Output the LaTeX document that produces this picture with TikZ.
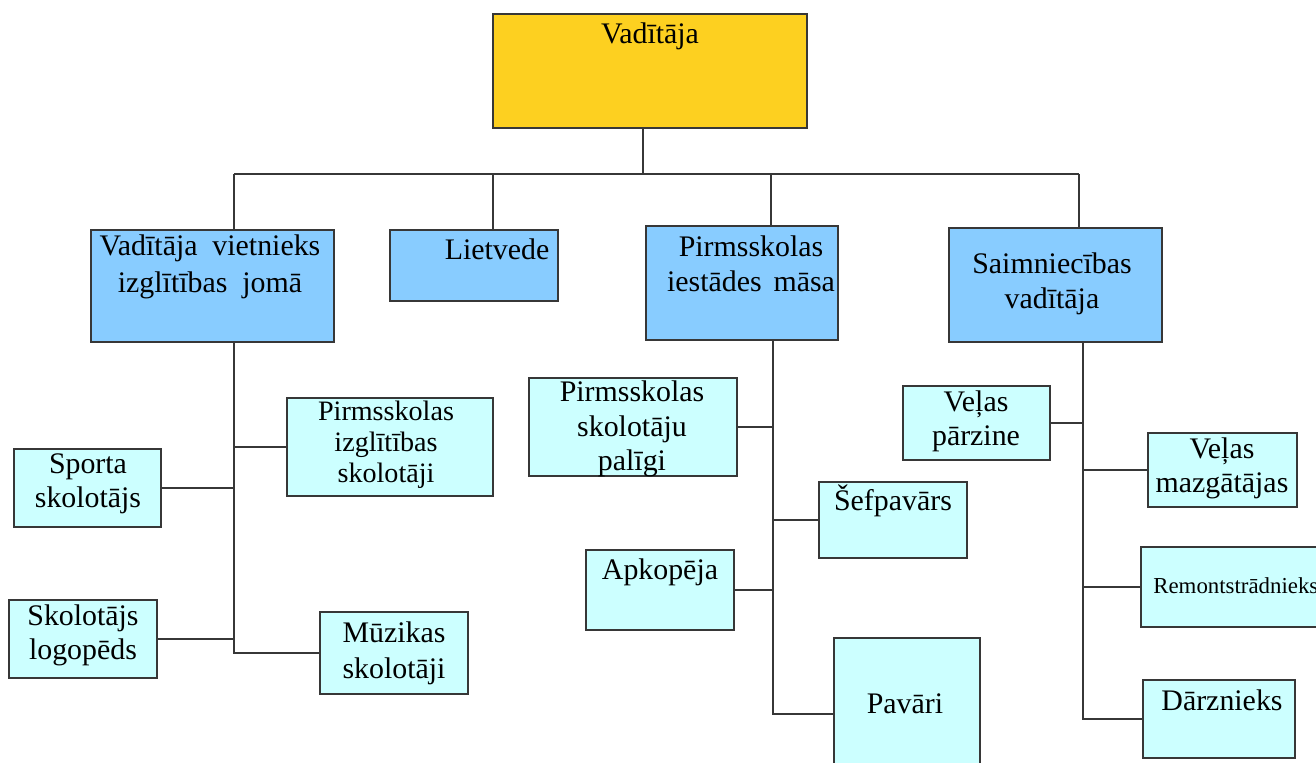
\documentclass[tikz,border=0pt]{standalone}
\usepackage{fontspec}
\setmainfont{Liberation Serif}
\usetikzlibrary{fit}
\definecolor{gold}{RGB}{253,208,32}
\definecolor{skyb}{RGB}{136,204,255}
\definecolor{pale}{RGB}{204,255,255}
\definecolor{edge}{RGB}{55,55,55}
\begin{document}
\begin{tikzpicture}[x=0.02cm,y=-0.02cm,
  bx/.style={draw=edge,line width=1.1pt,inner sep=0pt,rectangle},
  topbox/.style={bx,fill=gold},
  midbox/.style={bx,fill=skyb},
  subbox/.style={bx,fill=pale},
  txt/.style={align=center,inner sep=0pt,font=\fontsize{17}{19.5}\selectfont},
  wire/.style={draw=edge,line width=1pt}]
\useasboundingbox (0,0) rectangle (1316,763);
\clip (0,0) rectangle (1316,763);
% top
\node[topbox,fit={(493,14) (807,128)}] (top) {};
\node[txt] (topt) at (650,36) {Vadītāja};
% level 2
\node[midbox,fit={(91,230) (334,342)}] (v1) {};
\node[txt,font=\fontsize{17}{21}\selectfont] (v1t) at (210,267) {Vadītāja\hspace{0.5em}vietnieks\\izglītības\hspace{0.5em}jomā};
\node[midbox,fit={(390,230) (558,301)}] (lv) {};
\node[txt] (lvt) at (497,249) {Lietvede};
\node[midbox,fit={(646,226) (838,340)}] (ma) {};
\node[txt,font=\fontsize{17}{20}\selectfont] (mat) at (751,264) {Pirmsskolas\\iestādes\hspace{0.4em}māsa};
\node[midbox,fit={(949,228) (1162,342)}] (sv) {};
\node[txt,font=\fontsize{17}{20}\selectfont] (svt) at (1052,284) {Saimniecības\\vadītāja};
% level 3 left
\node[subbox,fit={(287,398) (493,496)}] (pis) {};
\node[txt,font=\fontsize{16}{17.6}\selectfont] (pist) at (386,445) {Pirmsskolas\\izglītības\\skolotāji};
\node[subbox,fit={(14,449) (161,527)}] (sp) {};
\node[txt] (spt) at (88,484) {Sporta\\skolotājs};
\node[subbox,fit={(9,600) (157,678)}] (lo) {};
\node[txt] (lot) at (83,635) {Skolotājs\\logopēds};
\node[subbox,fit={(320,612) (468,694)}] (mu) {};
\node[txt,font=\fontsize{17}{20.5}\selectfont] (mut) at (394,653) {Mūzikas\\skolotāji};
% level 3 middle
\node[subbox,fit={(529,378) (737,476)}] (pa) {};
\node[txt] (pat) at (632,429) {Pirmsskolas\\skolotāju\\palīgi};
\node[subbox,fit={(819,482) (967,558)}] (se) {};
\node[txt] (set) at (893,501) {Šefpavārs};
\node[subbox,fit={(586,550) (734,630)}] (ap) {};
\node[txt] (apt) at (660,572) {Apkopēja};
\node[subbox,fit={(834,638) (980,790)}] (pv) {};
\node[txt] (pvt) at (905,704) {Pavāri};
% level 3 right
\node[subbox,fit={(903,386) (1050,460)}] (vp) {};
\node[txt] (vpt) at (976,421) {Veļas\\pārzine};
\node[subbox,fit={(1148,433) (1297,507)}] (vm) {};
\node[txt] (vmt) at (1222,468) {Veļas\\mazgātājas};
\node[subbox,fit={(1141,547) (1340,627)}] (re) {};
\node[txt,font=\fontsize{13}{15}\selectfont,anchor=west] (ret) at (1153,586) {Remontstrādnieks};
\node[subbox,fit={(1143,680) (1295,758)}] (da) {};
\node[txt] (dat) at (1222,700) {Dārznieks};
% connectors top level
\coordinate (bus0) at (643,174);
\coordinate (b1) at (234,174);
\coordinate (b2) at (493,174);
\coordinate (b3) at (771,174);
\coordinate (b4) at (1079,174);
\draw[wire] (top.south -| bus0) -- (bus0);
\draw[wire] (b1) -- (b4);
\draw[wire] (b1) -- (b1 |- v1.north);
\draw[wire] (b2) -- (b2 |- lv.north);
\draw[wire] (b3) -- (b3 |- ma.north);
\draw[wire] (b4) -- (b4 |- sv.north);
% spine 1
\coordinate (s1) at (234,342);
\draw[wire] (s1) -- (s1 |- mu.west) -- (mu.west);
\draw[wire] (pis.west) -- (pis.west -| s1);
\draw[wire] (sp.east) -- (sp.east -| s1);
\draw[wire] (lo.east) -- (lo.east -| s1);
% spine 2
\coordinate (s2) at (773,340);
\draw[wire] (s2) -- (s2 |- pv.west) -- (pv.west);
\draw[wire] (pa.east) -- (pa.east -| s2);
\draw[wire] (se.west) -- (se.west -| s2);
\draw[wire] (ap.east) -- (ap.east -| s2);
% spine 3
\coordinate (s3) at (1083,342);
\draw[wire] (s3) -- (s3 |- da.west) -- (da.west);
\draw[wire] (vp.east) -- (vp.east -| s3);
\draw[wire] (vm.west) -- (vm.west -| s3);
\draw[wire] (re.west) -- (re.west -| s3);
\end{tikzpicture}
\end{document}
